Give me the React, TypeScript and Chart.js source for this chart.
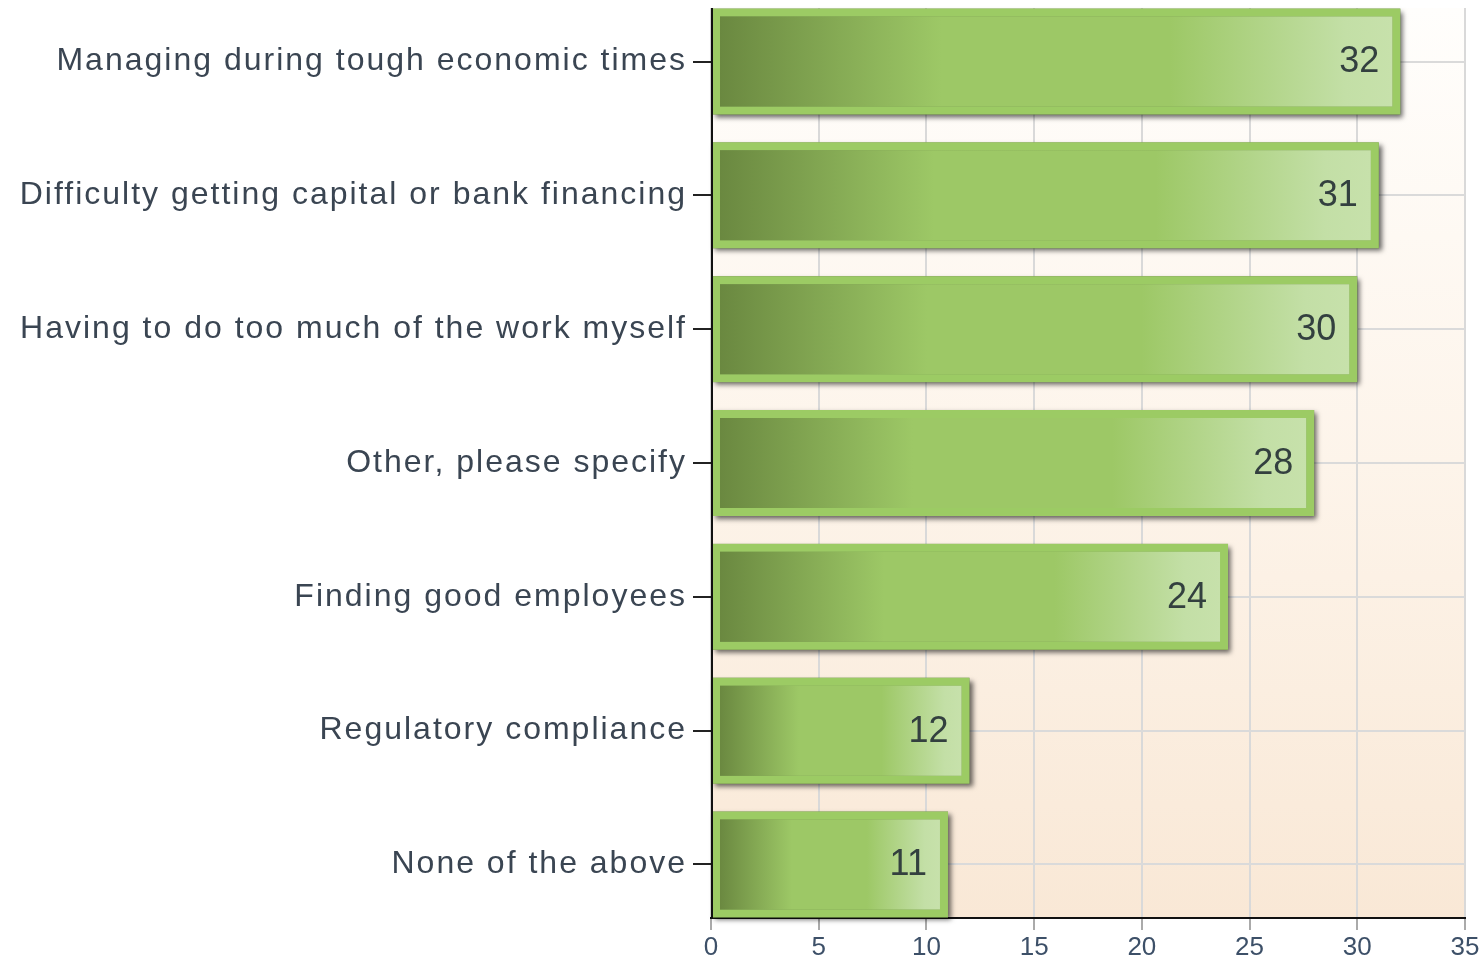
import { useEffect, useRef } from "react";
import { Chart, registerables } from "chart.js";

Chart.register(...registerables);

const categories = [
  "Managing during tough economic times",
  "Difficulty getting capital or bank financing",
  "Having to do too much of the work myself",
  "Other, please specify",
  "Finding good employees",
  "Regulatory compliance",
  "None of the above",
];
const counts = [32, 31, 30, 28, 24, 12, 11];
const xTicks = [0, 5, 10, 15, 20, 25, 30, 35];

const FONT = "'Liberation Sans', Arial, sans-serif";

const plotBg = {
  id: "plotBg",
  beforeDraw(chart: any) {
    const { ctx, chartArea } = chart;
    if (!chartArea) return;
    ctx.letterSpacing = "2px";
    const g = ctx.createLinearGradient(0, chartArea.top, 0, chartArea.bottom);
    g.addColorStop(0, "#fffefc");
    g.addColorStop(0.5, "#fdf4ea");
    g.addColorStop(1, "#f9e8d6");
    ctx.save();
    ctx.fillStyle = g;
    ctx.fillRect(chartArea.left, chartArea.top, chartArea.right - chartArea.left, chartArea.bottom - chartArea.top);
    ctx.restore();
  },
};

const barDecor = {
  id: "barDecor",
  beforeDatasetsDraw(chart: any) {
    const { ctx } = chart;
    ctx.letterSpacing = "0px";
    const meta = chart.getDatasetMeta(0);
    meta.data.forEach((el: any) => {
      const { x, y, base, height } = el.getProps(["x", "y", "base", "height"], true);
      ctx.save();
      ctx.shadowColor = "rgba(0,0,0,0.6)";
      ctx.shadowBlur = 5;
      ctx.shadowOffsetX = 3;
      ctx.shadowOffsetY = 3;
      ctx.fillStyle = "#7a9a50";
      ctx.fillRect(base, y - height / 2, x - base, height);
      ctx.restore();
    });
  },
  afterDatasetsDraw(chart: any) {
    const { ctx, chartArea, scales } = chart;
    ctx.letterSpacing = "0px";
    const meta = chart.getDatasetMeta(0);
    ctx.save();
    ctx.font = `36px ${FONT}`;
    ctx.fillStyle = "#33403f";
    ctx.textAlign = "right";
    ctx.textBaseline = "middle";
    meta.data.forEach((el: any, i: number) => {
      const { x, y } = el.getProps(["x", "y"], true);
      ctx.fillText(String(counts[i]), x - 21, y + 1);
    });
    ctx.restore();
    const x0 = scales.x.getPixelForValue(0);
    ctx.save();
    ctx.strokeStyle = "#111";
    ctx.lineWidth = 2;
    ctx.beginPath();
    ctx.moveTo(x0 + 1, chartArea.top);
    ctx.lineTo(x0 + 1, chartArea.bottom);
    ctx.stroke();
    ctx.restore();
  },
};

export default function App() {
  const ref = useRef<HTMLCanvasElement>(null);
  useEffect(() => {
    if (!ref.current) return;
    const chart = new Chart(ref.current, {
      type: "bar",
      data: {
        datasets: [
          {
            data: counts.map((v, i) => ({ x: v, y: i })),
            borderColor: "#9ccb64",
            borderWidth: 8,
            borderSkipped: false,
            barPercentage: 0.99,
            categoryPercentage: 0.8,
            backgroundColor: (c: any) => {
              const chart = c.chart;
              if (!chart.chartArea || c.type !== "data" || !c.raw) return "#9dc865";
              const xs = chart.scales.x;
              const x0 = xs.getPixelForValue(0) + 8;
              const x1 = xs.getPixelForValue(c.raw.x) - 8;
              const g = chart.ctx.createLinearGradient(x0, 0, x1, 0);
              g.addColorStop(0, "#6a8840");
              g.addColorStop(0.33, "#9dc866");
              g.addColorStop(0.67, "#9dc866");
              g.addColorStop(0.93, "#c3dfa6");
              g.addColorStop(1, "#c7e1ab");
              return g;
            },
          } as any,
        ],
      },
      options: {
        indexAxis: "y",
        animation: false,
        responsive: true,
        maintainAspectRatio: false,
        events: [],
        layout: { padding: { top: 8, right: 17, left: 0, bottom: 0 } },
        plugins: { legend: { display: false }, tooltip: { enabled: false } },
        scales: {
          x: {
            type: "linear",
            position: "bottom",
            min: xTicks[0],
            max: xTicks[xTicks.length - 1],
            afterBuildTicks: (s: any) => {
              s.ticks = xTicks.map((v) => ({ value: v }));
            },
            afterFit: (s: any) => {
              s.height = 45;
            },
            grid: {
              offset: false,
              color: "#d9d9d9",
              lineWidth: 2,
              tickColor: "#aaaaaa",
              tickLength: 12,
              tickWidth: 2,
            },
            border: { display: true, color: "#111", width: 2 },
            ticks: {
              z: 1,
              padding: 2,
              color: "#3d5068",
              font: { family: FONT, size: 26 },
            },
          },
          y: {
            type: "linear",
            reverse: true,
            offset: false,
            min: -0.4,
            max: categories.length - 0.6,
            afterBuildTicks: (s: any) => {
              s.ticks = categories.map((_, i) => ({ value: i }));
            },
            afterFit: (s: any) => {
              s.width = 711;
              s.paddingTop = 0;
              s.paddingBottom = 0;
            },
            grid: {
              offset: false,
              color: "#dadada",
              lineWidth: 2,
              tickColor: "#222",
              tickLength: 18,
              tickWidth: 2,
            },
            border: { display: false },
            ticks: {
              padding: 6,
              color: "#3a4552",
              font: { family: FONT, size: 32 },
              callback: (v: any) => categories[v as number] ?? "",
            },
          },
        },
      } as any,
      plugins: [plotBg, barDecor],
    });
    return () => chart.destroy();
  }, []);
  return (
    <div style={{ position: "absolute", left: 0, top: 0, width: 1482, height: 963, background: "#fff" }}>
      <canvas ref={ref} />
    </div>
  );
}
